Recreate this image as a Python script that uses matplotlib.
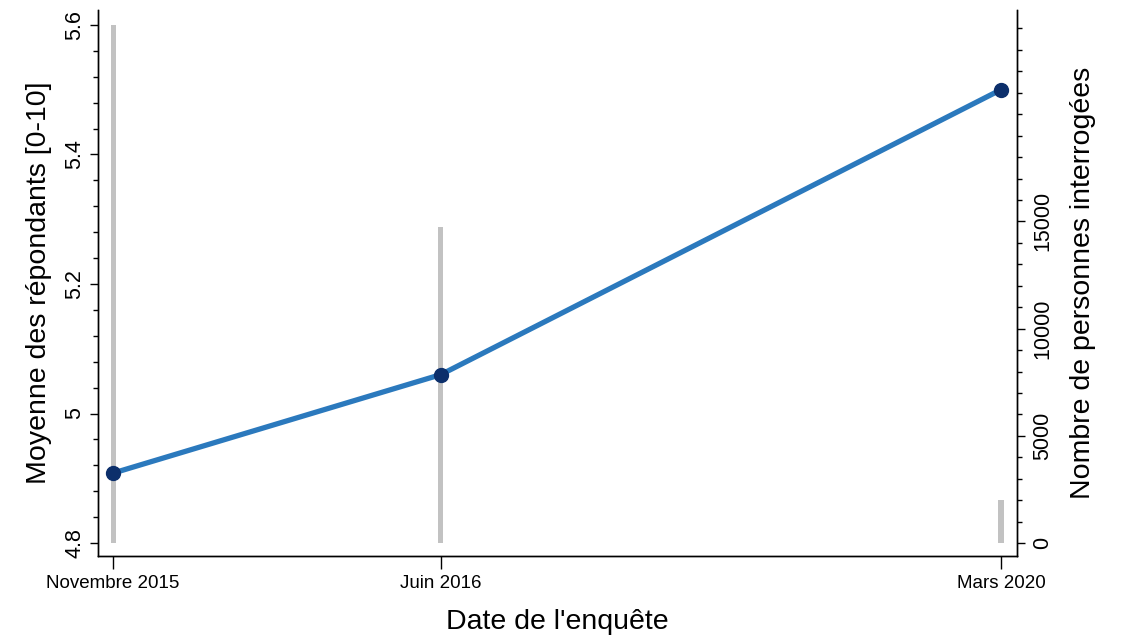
import matplotlib
matplotlib.use("Agg")
import matplotlib.pyplot as plt
from matplotlib.ticker import MultipleLocator, FixedLocator

plt.rcParams.update({
    "font.family": ["Liberation Sans", "DejaVu Sans"],
    "axes.linewidth": 1.0,
})

# survey waves (position on the x axis as drawn in the original)
dates = ["Novembre 2015", "Juin 2016", "Mars 2020"]
x_pos = [0.0, 0.369, 1.0]
moyenne = [4.908, 5.060, 5.500]
n_interroges = [24150, 14750, 2000]

LINE = "#2b79bd"
MARK = "#0c2f6b"
BAR = "#c2c2c2"

fig = plt.figure(figsize=(11.27, 6.38), dpi=100)
ax = fig.add_axes([98 / 1127, 1 - 556 / 638, (1017 - 98) / 1127, (556 - 10) / 638])
ax2 = ax.twinx()

# respondents (right axis), drawn beneath the mean line
ax2.bar(x_pos, n_interroges, width=0.0058, color=BAR, edgecolor="none")
ax2.set_ylim(-604, 24861)
ax2.yaxis.set_major_locator(FixedLocator([0, 5000, 10000, 15000]))
ax2.yaxis.set_minor_locator(MultipleLocator(1000))
ax2.tick_params(axis="y", which="major", length=6, width=1, labelsize=15.5,
                labelrotation=90, pad=5)
ax2.tick_params(axis="y", which="minor", length=3.5, width=1)
for lab in ax2.get_yticklabels():
    lab.set_va("center")
ax2.set_ylabel("Nombre de personnes interrogées", fontsize=20.5, labelpad=12)
ax2.spines["top"].set_visible(False)

ax.set_zorder(ax2.get_zorder() + 1)
ax.patch.set_visible(False)
ax.plot(x_pos, moyenne, color=LINE, lw=3.8, solid_capstyle="round", zorder=3)
ax.plot(x_pos, moyenne, ls="none", marker="o", ms=10, color=MARK, zorder=4)

ax.set_xlim(-0.017, 1.018)
ax.set_ylim(4.78, 5.623)
ax.yaxis.set_minor_locator(MultipleLocator(0.04))
ax.set_yticks([4.8, 5.0, 5.2, 5.4, 5.6])
ax.set_yticklabels(["4.8", "5", "5.2", "5.4", "5.6"])
ax.tick_params(axis="y", which="major", length=6, width=1, labelsize=15.5,
               labelrotation=90, pad=3)
ax.tick_params(axis="y", which="minor", length=3.5, width=1)
for lab in ax.get_yticklabels():
    lab.set_va("center")
ax.set_xticks(x_pos)
ax.set_xticklabels(dates)
ax.tick_params(axis="x", length=9, width=1, labelsize=13.5, pad=5)
ax.set_xlabel("Date de l'enquête", fontsize=20.5, labelpad=12)
ax.set_ylabel("Moyenne des répondants [0-10]", fontsize=20.5, labelpad=9)
ax.spines["top"].set_visible(False)

fig.savefig("out.png", dpi=100)
